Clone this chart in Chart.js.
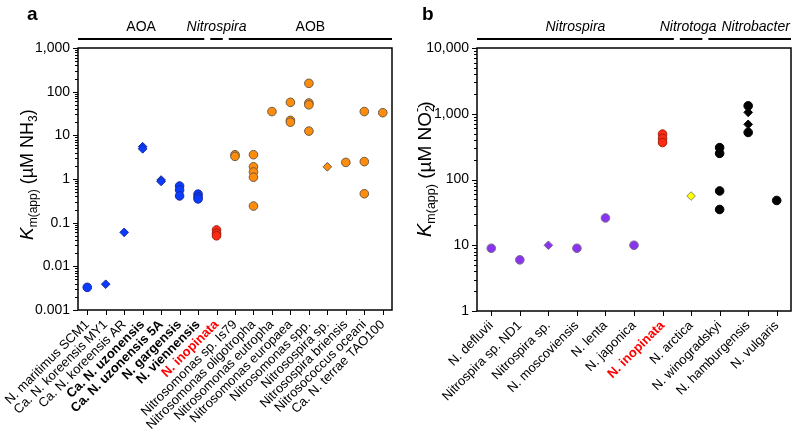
<!DOCTYPE html>
<html>
<head>
<meta charset="utf-8">
<script src="https://cdn.jsdelivr.net/npm/chart.js@4.4.1/dist/chart.umd.min.js"></script>
<style>
  html, body { margin: 0; padding: 0; background: #fff; }
  .panel { position: absolute; top: 0; width: 400px; height: 433px; }
</style>
</head>
<body>
<div class="panel" style="left:0"><canvas id="chartA" width="400" height="433"></canvas></div>
<div class="panel" style="left:400px"><canvas id="chartB" width="400" height="433"></canvas></div>
<script>
const FONT = '"Liberation Sans", Arial, sans-serif';

// ---- panel a: ammonia oxidisers, Km(app) in uM NH3 ----
const speciesA = [
  'N. maritimus SCM1', 'Ca. N. koreensis MY1', 'Ca. N. koreensis AR',
  'Ca. N. uzonensis', 'Ca. N. uzonensis 5A', 'N. gargensis', 'N. viennensis',
  'N. inopinata', 'Nitrosomonas sp. Is79', 'Nitrosomonas oligotropha',
  'Nitrosomonas eutropha', 'Nitrosomonas europaea', 'Nitrosomonas spp.',
  'Nitrosospira sp.', 'Nitrosospira briensis', 'Nitrosococcus oceani',
  'Ca. N. terrae TAO100'
];
const boldA = ['Ca. N. uzonensis', 'Ca. N. uzonensis 5A', 'N. gargensis', 'N. viennensis', 'N. inopinata'];
const aoaCircles = [
  ['N. maritimus SCM1', 0.0033],
  ['N. gargensis', 0.69], ['N. gargensis', 0.56], ['N. gargensis', 0.41],
  ['N. viennensis', 0.45], ['N. viennensis', 0.39], ['N. viennensis', 0.35]
];
const aoaDiamonds = [
  ['Ca. N. koreensis MY1', 0.0039],
  ['Ca. N. koreensis AR', 0.06],
  ['Ca. N. uzonensis', 5.5], ['Ca. N. uzonensis', 4.9],
  ['Ca. N. uzonensis 5A', 0.95], ['Ca. N. uzonensis 5A', 0.88]
];
const comammoxA = [['N. inopinata', 0.068], ['N. inopinata', 0.057], ['N. inopinata', 0.05]];
const aobCircles = [
  ['Nitrosomonas sp. Is79', 3.6], ['Nitrosomonas sp. Is79', 3.3],
  ['Nitrosomonas oligotropha', 3.6], ['Nitrosomonas oligotropha', 1.9],
  ['Nitrosomonas oligotropha', 1.45], ['Nitrosomonas oligotropha', 1.1],
  ['Nitrosomonas oligotropha', 0.24],
  ['Nitrosomonas eutropha', 35],
  ['Nitrosomonas europaea', 57], ['Nitrosomonas europaea', 22], ['Nitrosomonas europaea', 20],
  ['Nitrosomonas spp.', 155], ['Nitrosomonas spp.', 55], ['Nitrosomonas spp.', 50],
  ['Nitrosomonas spp.', 12.5],
  ['Nitrosospira briensis', 2.4],
  ['Nitrosococcus oceani', 35], ['Nitrosococcus oceani', 2.5], ['Nitrosococcus oceani', 0.46],
  ['Ca. N. terrae TAO100', 33]
];
const aobDiamonds = [['Nitrosospira sp.', 1.9]];
const yTicksA = [0.001, 0.01, 0.1, 1, 10, 100, 1000];
const yLabelsA = ['0.001', '0.01', '0.1', '1', '10', '100', '1,000'];
const groupNamesA = ['AOA', 'Nitrospira', 'AOB'];
const groupFirstA = [0, 7, 8];
const groupLastA = [6, 7, 16];

// ---- panel b: nitrite oxidisers, Km(app) in uM NO2- ----
const speciesB = [
  'N. defluvii', 'Nitrospira sp. ND1', 'Nitrospira sp.', 'N. moscoviensis',
  'N. lenta', 'N. japonica', 'N. inopinata', 'N. arctica',
  'N. winogradskyi', 'N. hamburgensis', 'N. vulgaris'
];
const boldB = ['N. inopinata'];
const nitrospiraCircles = [
  ['N. defluvii', 9], ['Nitrospira sp. ND1', 6], ['N. moscoviensis', 9],
  ['N. lenta', 26], ['N. japonica', 10]
];
const nitrospiraDiamonds = [['Nitrospira sp.', 10]];
const comammoxB = [['N. inopinata', 490], ['N. inopinata', 420], ['N. inopinata', 365]];
const nitrotogaDiamonds = [['N. arctica', 56]];
const nitrobacterCircles = [
  ['N. winogradskyi', 305], ['N. winogradskyi', 250], ['N. winogradskyi', 67],
  ['N. winogradskyi', 35],
  ['N. hamburgensis', 1320], ['N. hamburgensis', 520],
  ['N. vulgaris', 48]
];
const nitrobacterDiamonds = [['N. hamburgensis', 1050], ['N. hamburgensis', 690]];
const yTicksB = [1, 10, 100, 1000, 10000];
const yLabelsB = ['1', '10', '100', '1,000', '10,000'];
const groupNamesB = ['Nitrospira', 'Nitrotoga', 'Nitrobacter'];
const groupFirstB = [0, 7, 8];
const groupLastB = [6, 7, 10];

const toPoints = (rows) => rows.map(r => ({ x: r[0], y: r[1] }));

function series(rows, shape, fill, edge) {
  return {
    data: toPoints(rows),
    pointStyle: shape,
    pointRadius: 4.3,
    backgroundColor: fill,
    borderColor: edge,
    borderWidth: 1
  };
}

// frame, tick marks, group bars, panel letter, axis title
const decor = {
  id: 'decor',
  afterDraw(chart, args, o) {
    const { ctx, chartArea: ca } = chart;
    const xs = chart.scales.x, ys = chart.scales.y;
    ctx.save();
    ctx.strokeStyle = '#000';
    ctx.fillStyle = '#000';
    ctx.lineWidth = 1.5;
    ctx.strokeRect(ca.left, ca.top, ca.right - ca.left, ca.bottom - ca.top);

    ctx.lineWidth = 1;
    ctx.beginPath();
    const e0 = Math.round(Math.log10(ys.min)), e1 = Math.round(Math.log10(ys.max));
    for (let e = e0; e <= e1; e++) {
      for (let k = 1; k <= 9; k++) {
        if (e === e1 && k > 1) break;
        const py = Math.round(ys.getPixelForValue(k * Math.pow(10, e))) + 0.5;
        const len = k === 1 ? 5 : 3;
        ctx.moveTo(ca.left - len, py);
        ctx.lineTo(ca.left, py);
      }
    }
    xs.ticks.forEach((t, i) => {
      const px = Math.round(xs.getPixelForTick(i)) + 0.5;
      ctx.moveTo(px, ca.bottom);
      ctx.lineTo(px, ca.bottom + 5);
    });
    ctx.stroke();

    // group bars above the plot
    const half = (xs.getPixelForValue(1) - xs.getPixelForValue(0)) / 2;
    const n = o.names.length;
    ctx.textAlign = 'center';
    ctx.textBaseline = 'alphabetic';
    o.names.forEach((name, i) => {
      let l = xs.getPixelForValue(o.first[i]) - half;
      let r = xs.getPixelForValue(o.last[i]) + half;
      if (i > 0) l += 3;
      if (i < n - 1) r -= 3;
      ctx.fillRect(l, 38, r - l, 2);
      ctx.font = (o.italic.includes(name) ? 'italic ' : '') + '14px ' + FONT;
      ctx.fillText(name, (l + r) / 2 + (o.shift[i] || 0), 31);
    });

    // panel letter
    ctx.textAlign = 'left';
    ctx.font = 'bold 19px ' + FONT;
    ctx.fillText(o.letter, o.letterX, 20);

    // rotated y title with sub/superscripts, read bottom to top
    ctx.translate(o.titleX, o.titleStart);
    ctx.rotate(-Math.PI / 2);
    let x = 0;
    o.title.forEach(p => {
      ctx.font = p[1] + ' ' + FONT;
      ctx.fillText(p[0], x, p[2]);
      if (p[3] !== false) x += ctx.measureText(p[0]).width;
    });
    ctx.restore();
  }
};

function makeChart(id, cfg) {
  return new Chart(document.getElementById(id), {
    type: 'scatter',
    data: { labels: cfg.labels, datasets: cfg.datasets },
    options: {
      responsive: false,
      animation: false,
      devicePixelRatio: 1,
      layout: { padding: { top: cfg.top, right: cfg.right, left: 0, bottom: 0 } },
      plugins: { legend: { display: false }, tooltip: { enabled: false }, decor: cfg.decor },
      scales: {
        x: {
          type: 'category',
          labels: cfg.labels,
          offset: true,
          grid: { offset: false, drawOnChartArea: false, color: 'rgba(0,0,0,0)', tickLength: 5 },
          border: { display: false },
          ticks: {
            autoSkip: false,
            minRotation: 45,
            maxRotation: 45,
            padding: 2,
            font: (c) => ({ family: FONT, size: 13, weight: cfg.bold.includes(cfg.labels[c.index]) ? 'bold' : 'normal' }),
            color: (c) => cfg.labels[c.index] === 'N. inopinata' ? '#ff0000' : '#000'
          },
          afterFit: (s) => { s.height = cfg.xHeight; s.paddingLeft = 0; s.paddingRight = 0; }
        },
        y: {
          type: 'logarithmic',
          min: cfg.yTicks[0],
          max: cfg.yTicks[cfg.yTicks.length - 1],
          grid: { drawOnChartArea: false, color: 'rgba(0,0,0,0)', tickLength: 5 },
          border: { display: false },
          afterBuildTicks: (s) => { s.ticks = cfg.yTicks.map(v => ({ value: v })); },
          ticks: {
            padding: 3,
            color: '#000',
            font: { family: FONT, size: 14 },
            callback: (v) => cfg.yLabels[cfg.yTicks.indexOf(v)]
          },
          afterFit: (s) => { s.width = cfg.yWidth; s.paddingTop = 0; s.paddingBottom = 0; }
        }
      }
    },
    plugins: [decor]
  });
}

const BLUE = '#0a3cff', BLUE_EDGE = '#1a2a9a';
const RED = '#ff2a10', RED_EDGE = '#9a2010';
const ORANGE = '#ff8c0a', ORANGE_EDGE = '#6a5a4a';
const PURPLE = '#8a33f0', PURPLE_EDGE = '#7a6a8a';

makeChart('chartA', {
  labels: speciesA,
  bold: boldA,
  yTicks: yTicksA,
  yLabels: yLabelsA,
  top: 48, right: 8, yWidth: 78, xHeight: 123,
  datasets: [
    series(aoaCircles, 'circle', BLUE, BLUE_EDGE),
    series(aoaDiamonds, 'rectRot', BLUE, BLUE_EDGE),
    series(comammoxA, 'circle', RED, RED_EDGE),
    series(aobCircles, 'circle', ORANGE, ORANGE_EDGE),
    series(aobDiamonds, 'rectRot', ORANGE, ORANGE_EDGE)
  ],
  decor: {
    names: groupNamesA, first: groupFirstA, last: groupLastA,
    italic: ['Nitrospira'], shift: [0, 0, 0],
    letter: 'a', letterX: 27,
    titleX: 33, titleStart: 240,
    title: [['K', 'italic 19px', 0], ['m(app)', '12px', 4], [' (\u00b5M NH', '18px', 0], ['3', '12px', 4], [')', '18px', 0]]
  }
});

makeChart('chartB', {
  labels: speciesB,
  bold: boldB,
  yTicks: yTicksB,
  yLabels: yLabelsB,
  top: 48, right: 9, yWidth: 77, xHeight: 122,
  datasets: [
    series(nitrospiraCircles, 'circle', PURPLE, PURPLE_EDGE),
    series(nitrospiraDiamonds, 'rectRot', PURPLE, PURPLE_EDGE),
    series(comammoxB, 'circle', RED, RED_EDGE),
    series(nitrotogaDiamonds, 'rectRot', '#ffff00', '#8a8a5a'),
    series(nitrobacterCircles, 'circle', '#000', '#000'),
    series(nitrobacterDiamonds, 'rectRot', '#000', '#000')
  ],
  decor: {
    names: groupNamesB, first: groupFirstB, last: groupLastB,
    italic: groupNamesB, shift: [0, -3, 6],
    letter: 'b', letterX: 22,
    titleX: 31, titleStart: 237,
    title: [['K', 'italic 20px', 0], ['m(app)', '12.5px', 4], [' (\u00b5M NO', '19px', 0], ['2', '12.5px', 3, false], ['-', '12.5px', -10], [')', '19px', 0]]
  }
});
</script>
</body>
</html>
